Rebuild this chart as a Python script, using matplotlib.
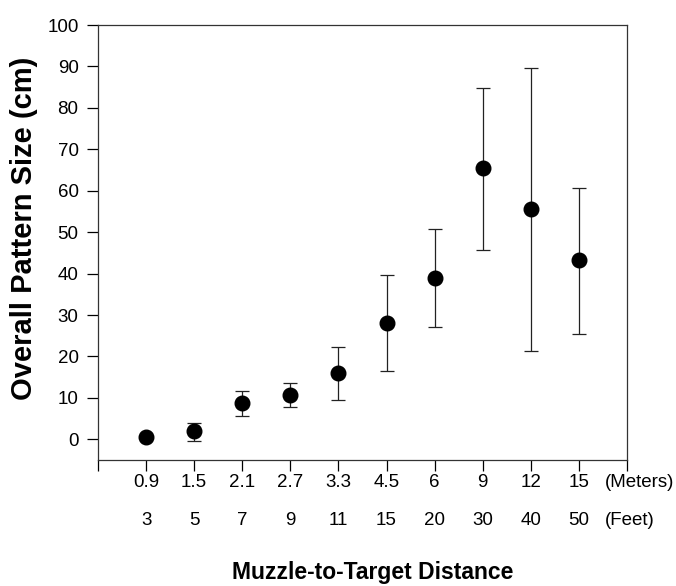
import matplotlib
matplotlib.use("Agg")
import matplotlib.pyplot as plt
from matplotlib.transforms import blended_transform_factory

plt.rcParams['font.family'] = ['Liberation Sans', 'DejaVu Sans']

meters = ["0.9", "1.5", "2.1", "2.7", "3.3", "4.5", "6", "9", "12", "15"]
feet = ["3", "5", "7", "9", "11", "15", "20", "30", "40", "50"]
means = [0.5, 2.0, 8.8, 10.8, 16.0, 28.1, 39.0, 65.4, 55.5, 43.2]
upper = [0.5, 3.9, 11.7, 13.5, 22.3, 39.6, 50.7, 84.7, 89.6, 60.6]
lower = [0.5, -0.5, 5.7, 7.8, 9.4, 16.4, 27.0, 45.7, 21.3, 25.5]

W, H = 676, 586
fig = plt.figure(figsize=(W / 100, H / 100), dpi=100)
ax = fig.add_axes([98 / W, 1 - 460 / H, (627 - 98) / W, (460 - 25) / H])

x = list(range(1, len(means) + 1))
yerr = [[m - l for m, l in zip(means, lower)], [u - m for m, u in zip(means, upper)]]
ax.errorbar(x, means, yerr=yerr, fmt='o', color='black', ms=10.5, ecolor='#222222',
            elinewidth=0.9, capsize=5, capthick=0.9, zorder=3)

ax.set_xlim(0, len(means) + 1)
ax.set_ylim(-5, 100)
ax.set_yticks(range(0, 101, 10))
ax.set_xticks(range(0, len(means) + 2))
ax.set_xticklabels([])
ax.tick_params(axis='both', direction='out', length=8, width=0.9, labelsize=13.5, colors='black')
ax.tick_params(axis='y', pad=6)

for s in ax.spines.values():
    s.set_linewidth(0.9)
    s.set_color('#333333')

tr = blended_transform_factory(ax.transData, ax.transAxes)
for xi, m, f in zip(x, meters, feet):
    ax.text(xi, -0.052, m, transform=tr, ha='center', va='center', fontsize=13.5)
    ax.text(xi, -0.14, f, transform=tr, ha='center', va='center', fontsize=13.5)
ax.text(10.55, -0.052, "(Meters)", transform=tr, ha='left', va='center', fontsize=13.5)
ax.text(10.55, -0.14, "(Feet)", transform=tr, ha='left', va='center', fontsize=13.5)

fig.text(24 / W, 1 - 228 / H, "Overall Pattern Size (cm)", rotation=90, ha='center',
         va='center', fontsize=21, fontweight='bold')
fig.text(373 / W, 1 - 572 / H, "Muzzle-to-Target Distance", ha='center', va='center',
         fontsize=16.5, fontweight='bold')

fig.savefig("out.png", dpi=100)
